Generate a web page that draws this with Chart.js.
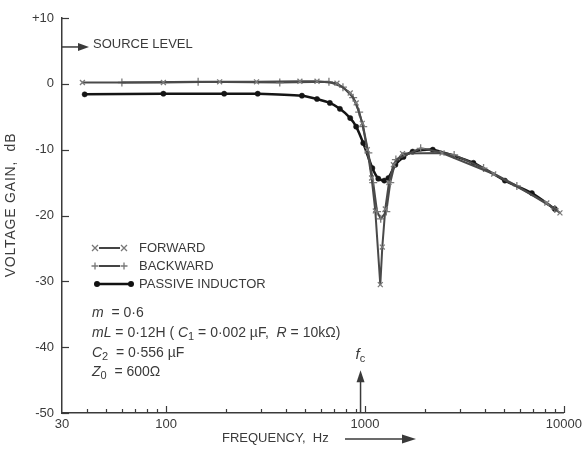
<!DOCTYPE html>
<html>
<head>
<meta charset="utf-8">
<script src="https://cdn.jsdelivr.net/npm/chart.js@4.4.1/dist/chart.umd.min.js"></script>
<style>
  html, body { margin: 0; padding: 0; background: #fff; }
  #wrap { width: 586px; height: 449px; }
</style>
</head>
<body>
<div id="wrap"><canvas id="c" width="586" height="449"></canvas></div>
<script>
// Frequency response of the m-derived filter section (frequency in Hz, gain in dB)
const forwardFreq = [38, 97, 186, 285, 471, 574, 723, 843, 903, 969, 1027, 1080, 1127, 1194, 1222, 1265, 1320, 1390, 1544, 2440, 4437, 8200, 9550];
const forwardGain = [0.2, 0.2, 0.3, 0.3, 0.4, 0.4, 0.1, -1.4, -2.9, -6.0, -10.0, -14.3, -19.3, -30.5, -24.8, -19.0, -15.0, -12.3, -10.6, -10.5, -13.7, -18.1, -19.6];

const backwardFreq = [60, 145, 373, 659, 775, 872, 935, 980, 1040, 1100, 1150, 1200, 1280, 1340, 1430, 1905, 2807, 3945, 5800, 9000];
const backwardGain = [0.2, 0.3, 0.2, 0.3, -0.5, -2.1, -4.3, -6.5, -10.5, -15.0, -19.4, -20.5, -19.4, -15.0, -11.5, -9.8, -10.8, -12.8, -15.5, -19.0];

const passiveFreq = [39, 97, 196, 289, 482, 574, 666, 748, 843, 903, 980, 1089, 1167, 1250, 1311, 1422, 1562, 1736, 2192, 3506, 5050, 6900, 9000];
const passiveGain = [-1.6, -1.5, -1.5, -1.5, -1.8, -2.3, -2.9, -3.8, -5.2, -6.5, -9.0, -12.8, -14.4, -14.7, -14.3, -12.3, -11.1, -10.3, -10.0, -12.0, -14.7, -16.6, -19.0];

// Axis ticks
const xTickValues = [30, 40, 50, 60, 70, 80, 90, 100, 200, 300, 400, 500, 600, 700, 800, 900,
                     1000, 2000, 3000, 4000, 5000, 6000, 7000, 8000, 9000, 10000];
const xLabelValues = [30, 100, 1000, 10000];
const yTickValues = [10, 0, -10, -20, -30, -40, -50];

// Reference markers
const sourceLevelDb = 5.6;
const cutoffFreq = 950;
const cutoffArrowTopDb = -43.5;

const INK = '#3a3a3a';
const FONT = '"Liberation Sans", Arial, sans-serif';

const toPoints = (fs, gs) => fs.map((f, i) => ({ x: f, y: gs[i] }));

function drawCross(ctx, x, y, r, rotated) {
  ctx.beginPath();
  if (rotated) {
    ctx.moveTo(x - r, y - r); ctx.lineTo(x + r, y + r);
    ctx.moveTo(x + r, y - r); ctx.lineTo(x - r, y + r);
  } else {
    ctx.moveTo(x - r, y); ctx.lineTo(x + r, y);
    ctx.moveTo(x, y - r); ctx.lineTo(x, y + r);
  }
  ctx.stroke();
}

function drawArrowHead(ctx, x, y, dir, len, half) {
  // dir: 'right' or 'up'
  ctx.beginPath();
  if (dir === 'right') {
    ctx.moveTo(x, y); ctx.lineTo(x - len, y - half); ctx.lineTo(x - len, y + half);
  } else {
    ctx.moveTo(x, y); ctx.lineTo(x - half, y + len); ctx.lineTo(x + half, y + len);
  }
  ctx.closePath();
  ctx.fill();
}

// Text made of runs: {t, it (italic), sub (subscript)}
function drawRuns(ctx, runs, x, y, size) {
  let cx = x;
  runs.forEach(r => {
    const s = r.sub ? Math.round(size * 0.75) : size;
    ctx.font = (r.it ? 'italic ' : '') + s + 'px ' + FONT;
    ctx.fillText(r.t, cx, r.sub ? y + 4 : y);
    cx += ctx.measureText(r.t).width;
  });
}

const annotations = {
  id: 'annotations',
  afterDraw(chart) {
    const { ctx, chartArea: a, scales: { x, y } } = chart;
    ctx.save();
    ctx.strokeStyle = INK;
    ctx.fillStyle = INK;

    // inward tick marks
    ctx.lineWidth = 1.2;
    xTickValues.forEach(v => {
      if (v === 30) return;
      const px = Math.round(x.getPixelForValue(v)) + 0.5;
      const len = xLabelValues.includes(v) ? 7 : 4;
      ctx.beginPath(); ctx.moveTo(px, a.bottom); ctx.lineTo(px, a.bottom - len); ctx.stroke();
    });
    yTickValues.forEach(v => {
      const py = Math.round(y.getPixelForValue(v)) + 0.5;
      ctx.beginPath(); ctx.moveTo(a.left, py); ctx.lineTo(a.left + 7, py); ctx.stroke();
    });

    // source level arrow
    const sy = y.getPixelForValue(sourceLevelDb);
    ctx.lineWidth = 1.5;
    ctx.beginPath(); ctx.moveTo(a.left, sy); ctx.lineTo(a.left + 20, sy); ctx.stroke();
    drawArrowHead(ctx, a.left + 27, sy, 'right', 11, 4);
    ctx.font = '13px ' + FONT;
    ctx.textBaseline = 'middle';
    ctx.textAlign = 'left';
    ctx.fillText('SOURCE LEVEL', a.left + 31, sy - 3);

    // cut-off frequency arrow
    const fx = x.getPixelForValue(cutoffFreq);
    const fTop = y.getPixelForValue(cutoffArrowTopDb);
    ctx.beginPath(); ctx.moveTo(fx, a.bottom); ctx.lineTo(fx, fTop + 10); ctx.stroke();
    drawArrowHead(ctx, fx, fTop, 'up', 12, 4);
    ctx.textAlign = 'left';
    drawRuns(ctx, [{ t: 'f', it: true }, { t: 'c', sub: true }], fx - 5, fTop - 15, 15);

    // legend
    ctx.textBaseline = 'middle';
    const lx0 = 95, lx1 = 124, tx = 139;
    const rows = [248, 266, 284];
    // forward
    ctx.strokeStyle = '#444'; ctx.lineWidth = 2;
    ctx.beginPath(); ctx.moveTo(lx0 + 4, rows[0]); ctx.lineTo(lx1 - 4, rows[0]); ctx.stroke();
    ctx.strokeStyle = '#777'; ctx.lineWidth = 1.3;
    drawCross(ctx, lx0, rows[0], 3, true); drawCross(ctx, lx1, rows[0], 3, true);
    // backward
    ctx.strokeStyle = '#444'; ctx.lineWidth = 2;
    ctx.beginPath(); ctx.moveTo(lx0 + 4, rows[1]); ctx.lineTo(lx1 - 4, rows[1]); ctx.stroke();
    ctx.strokeStyle = '#777'; ctx.lineWidth = 1.3;
    drawCross(ctx, lx0, rows[1], 3.5, false); drawCross(ctx, lx1, rows[1], 3.5, false);
    // passive
    ctx.strokeStyle = '#111'; ctx.fillStyle = '#111'; ctx.lineWidth = 2.5;
    ctx.beginPath(); ctx.moveTo(lx0 + 2, rows[2]); ctx.lineTo(lx1 + 6, rows[2]); ctx.stroke();
    ctx.beginPath(); ctx.arc(lx0 + 2, rows[2], 3, 0, Math.PI * 2); ctx.fill();
    ctx.beginPath(); ctx.arc(lx1 + 7, rows[2], 3, 0, Math.PI * 2); ctx.fill();

    ctx.fillStyle = INK;
    ctx.font = '13px ' + FONT;
    ctx.fillText('FORWARD', tx, rows[0]);
    ctx.fillText('BACKWARD', tx, rows[1]);
    ctx.fillText('PASSIVE INDUCTOR', tx, rows[2]);

    // circuit parameters
    const px0 = 92;
    drawRuns(ctx, [{ t: 'm', it: true }, { t: '  = 0·6' }], px0, 313, 14);
    drawRuns(ctx, [{ t: 'mL', it: true }, { t: ' = 0·12H ( ' }, { t: 'C', it: true }, { t: '1', sub: true },
                   { t: ' = 0·002 µF,  ' }, { t: 'R', it: true }, { t: ' = 10kΩ)' }], px0, 333, 14);
    drawRuns(ctx, [{ t: 'C', it: true }, { t: '2', sub: true }, { t: '  = 0·556 µF' }], px0, 353, 14);
    drawRuns(ctx, [{ t: 'Z', it: true }, { t: '0', sub: true }, { t: '  = 600Ω' }], px0, 372, 14);

    // axis titles
    ctx.font = '13px ' + FONT;
    ctx.textAlign = 'left';
    ctx.fillText('FREQUENCY,  Hz', 222, 438);
    ctx.lineWidth = 1.5; ctx.strokeStyle = INK;
    ctx.beginPath(); ctx.moveTo(345, 439); ctx.lineTo(405, 439); ctx.stroke();
    drawArrowHead(ctx, 416, 439, 'right', 14, 4.5);

    ctx.translate(11, 205);
    ctx.rotate(-Math.PI / 2);
    ctx.textAlign = 'center';
    ctx.font = '14px ' + FONT;
    if ('letterSpacing' in ctx) ctx.letterSpacing = '0.8px';
    ctx.fillText('VOLTAGE GAIN,  dB', 0, 0);
    ctx.restore();
  }
};

new Chart(document.getElementById('c'), {
  type: 'line',
  data: {
    datasets: [
      {
        label: 'FORWARD',
        data: toPoints(forwardFreq, forwardGain),
        borderColor: '#4a4a4a', borderWidth: 2,
        pointStyle: 'crossRot', pointRadius: 3.5, pointBorderColor: '#7a7a7a', pointBorderWidth: 1.3,
        tension: 0
      },
      {
        label: 'BACKWARD',
        data: toPoints(backwardFreq, backwardGain),
        borderColor: '#4a4a4a', borderWidth: 2,
        pointStyle: 'cross', pointRadius: 4, pointBorderColor: '#7a7a7a', pointBorderWidth: 1.3,
        tension: 0
      },
      {
        label: 'PASSIVE INDUCTOR',
        data: toPoints(passiveFreq, passiveGain),
        borderColor: '#151515', borderWidth: 2.5,
        pointStyle: 'circle', pointRadius: 2.6, pointBackgroundColor: '#151515', pointBorderColor: '#151515',
        pointBorderWidth: 0.5,
        tension: 0.2
      }
    ]
  },
  options: {
    responsive: false,
    animation: false,
    layout: { padding: { top: 18, right: 22, left: 0, bottom: 0 } },
    plugins: { legend: { display: false }, tooltip: { enabled: false } },
    scales: {
      x: {
        type: 'logarithmic',
        min: 30, max: 10000,
        afterFit(s) { s.height = 36; },
        afterBuildTicks(s) { s.ticks = xTickValues.map(v => ({ value: v })); },
        grid: { drawOnChartArea: false, drawTicks: false },
        border: { display: true, color: INK, width: 1.5 },
        ticks: {
          autoSkip: false, maxRotation: 0, padding: 4, color: INK,
          font: { family: FONT, size: 13 },
          callback: v => xLabelValues.includes(v) ? String(v) : ''
        }
      },
      y: {
        type: 'linear',
        min: -50, max: 10,
        afterFit(s) { s.width = 62; },
        afterBuildTicks(s) { s.ticks = yTickValues.map(v => ({ value: v })); },
        grid: { drawOnChartArea: false, drawTicks: false },
        border: { display: true, color: INK, width: 1.5 },
        ticks: {
          padding: 8, color: INK,
          font: { family: FONT, size: 13 },
          callback: v => v > 0 ? '+' + v : (v < 0 ? '-' + Math.abs(v) : '0')
        }
      }
    }
  },
  plugins: [annotations]
});
</script>
</body>
</html>
